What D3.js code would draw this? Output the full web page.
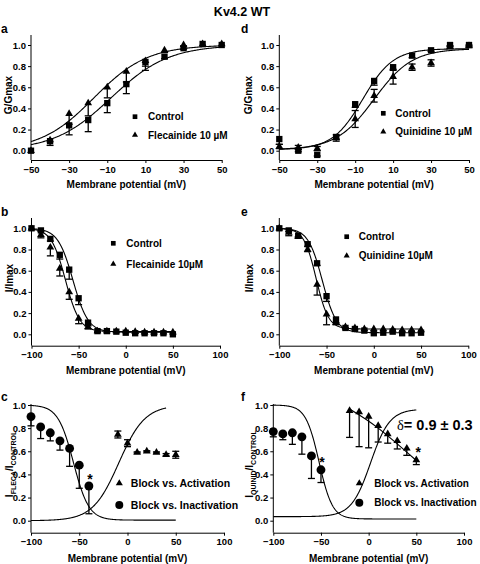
<!DOCTYPE html>
<html><head><meta charset="utf-8">
<script src="https://cdn.jsdelivr.net/npm/d3@7"></script>
<style>body{margin:0;background:#fff}svg{display:block;font-family:"Liberation Sans",Arial,sans-serif}</style>
</head><body><svg id="c" width="480" height="564"></svg>
<script>
// ---------- DATA ----------
const voltsA = [-50,-40,-30,-20,-10,0,10,20,30,40,50];
const ctrlA = [0.0,0.09,0.24,0.29,0.45,0.63,0.84,0.89,0.97,1.01,1.0];
const ctrlAErr = [0,0.04,0.09,0.11,0.09,0.09,0.08,0.02,0.01,0,0];
const fleA = [0.0,0.10,0.35,0.45,0.60,0.75,0.85,0.95,1.0,1.01,1.01];
const fleAErr = [0,0,0.10,0.12,0.10,0.10,0.05,0.02,0.01,0,0];
const fitA = {ctrl:{vh:-8,k:15,bottom:0,top:1.0,dir:-1}, drug:{vh:-17,k:14,bottom:0,top:1.0,dir:-1}};

const voltsD = [-50,-40,-30,-20,-10,0,10,20,30,40,50];
const ctrlD = [0.11,0.0,-0.04,0.13,0.44,0.66,0.79,0.90,0.95,1.0,1.0];
const ctrlDErr = [0.05,0.01,0.01,0.02,0.03,0.04,0.03,0.02,0.01,0.01,0.01];
const quiD = [0.04,0.03,0.02,0.12,0.30,0.52,0.70,0.79,0.83,0.98,0.99];
const quiDErr = [0.02,0.02,0.02,0.03,0.08,0.06,0.07,0.03,0.03,0.01,0.01];
const fitD = {ctrl:{vh:-6,k:8,bottom:0.01,top:0.965,dir:-1}, drug:{vh:0,k:10,bottom:0.01,top:0.965,dir:-1}};

const voltsB = [-100,-90,-80,-70,-60,-50,-40,-30,-20,-10,0,10,20,30,40,50];
const ctrlB = [1.0,0.98,0.90,0.75,0.61,0.34,0.11,0.03,0.03,0.025,0.015,0.01,0.01,0.01,0.01,0.0];
const ctrlBErr = [0,0.01,0.02,0.04,0.09,0.06,0.03,0.01,0,0,0,0,0,0,0,0];
const fleB = [1.0,0.94,0.82,0.62,0.40,0.15,0.07,0.03,0.03,0.03,0.03,0.025,0.02,0.02,0.02,0.02];
const fleBErr = [0,0.03,0.08,0.07,0.07,0.05,0.02,0.01,0,0,0,0,0,0,0,0];
const fitB = {ctrl:{vh:-56,k:8,bottom:0.02,top:1.0,dir:1,from:-100,to:50}, drug:{vh:-64,k:7.5,bottom:0.025,top:1.0,dir:1,from:-100,to:50}};

const voltsE = [-100,-90,-80,-70,-60,-50,-40,-30,-20,-10,0,10,20,30,40,50];
const ctrlE = [1.0,0.98,0.93,0.85,0.67,0.36,0.14,0.06,0.05,0.035,0.01,0.015,0.025,0.01,0.01,0.015];
const ctrlEErr = [0,0.01,0.01,0.02,0.02,0.05,0.03,0.01,0,0,0,0,0,0,0,0];
const quiE = [1.0,0.96,0.92,0.80,0.47,0.19,0.11,0.07,0.06,0.05,0.05,0.05,0.045,0.04,0.04,0.04];
const quiEErr = [0,0.03,0.01,0.02,0.10,0.10,0.02,0.01,0,0,0,0,0,0,0,0];
const fitE = {ctrl:{vh:-54.5,k:7.5,bottom:0.015,top:1.0,dir:1,from:-100,to:50}, drug:{vh:-61,k:6.5,bottom:0.05,top:1.0,dir:1,from:-100,to:50}};

const voltsCInact = [-100,-90,-80,-70,-60,-50,-40];
const inactC = [0.90,0.81,0.76,0.69,0.625,0.48,0.30];
const inactCErr = [0.08,0.10,0.07,0.08,0.155,0.20,0.24];
const voltsCAct = [-10,0,10,20,30,40,50];
const actC = [0.745,0.67,0.59,0.60,0.59,0.57,0.57];
const actCErr = [0.03,0.03,0.005,0.005,0.005,0.01,0.03];
const starC = [{v:-39,y:0.38}];
const fitC = {act:{vh:-9,k:13.5,bottom:0,top:1.0,dir:-1,from:-100,to:40}, inact:{vh:-56,k:8,bottom:0.005,top:1.0,dir:1,from:-100,to:50}};

const voltsFInact = [-100,-90,-80,-70,-60,-50];
const inactF = [0.77,0.75,0.76,0.725,0.56,0.44];
const inactFErr = [0.045,0.05,0.10,0.15,0.195,0.11];
const voltsFAct = [-20,-10,0,10,20,30,40,50];
const actF = [0.95,0.94,0.90,0.82,0.75,0.69,0.625,0.525];
const actFErr = [0.23,0.30,0.27,0.14,0.08,0.07,0.06,0.04];
const starF = [{v:-49,y:0.525},{v:52,y:0.61}];
const fitF = {act:{vh:2,k:10,bottom:0.035,top:0.965,dir:-1,from:-100,to:50}, inact:{vh:-52,k:7,bottom:0.015,top:1.0,dir:1,from:-100,to:50}};
const deltaLineV = [-20,10,50];
const deltaLineY = [0.965,0.80,0.52];

const yTicks = [0,0.2,0.4,0.6,0.8,1.0];
const xTicksNarrow = [-50,-30,-10,10,30,50];
const xTicksWide = [-100,-50,0,50,100];

// ---------- DRAW ----------
const svg = d3.select("#c");
svg.append("text").attr("x",242).attr("y",16).attr("text-anchor","middle")
  .attr("font-size",12.5).attr("font-weight","bold").text("Kv4.2 WT");

function boltz(p,v){return p.bottom+(p.top-p.bottom)/(1+Math.exp(p.dir*(v-p.vh)/p.k));}

function sym(type,size){
  const t = type==="square"?d3.symbolSquare:type==="triangle"?d3.symbolTriangle:d3.symbolCircle;
  return d3.symbol().type(t).size(size)();
}

function panel(cfg){
  const g = svg.append("g");
  const x = d3.scaleLinear().domain(cfg.xdom).range([cfg.x0,cfg.x1]);
  const y = d3.scaleLinear().domain([0,1]).range([cfg.y0,cfg.y1]);
  const ya = g.append("g").attr("transform",`translate(${cfg.x0},0)`)
    .call(d3.axisLeft(y).tickValues(yTicks).tickFormat(d3.format(".1f")).tickSize(3).tickPadding(2).tickSizeOuter(0));
  ya.select(".domain").attr("d",`M0,${cfg.axisTop}V${cfg.axisY}`);
  g.append("g").attr("transform",`translate(0,${cfg.axisY})`)
    .call(d3.axisBottom(x).tickValues(cfg.xticks).tickFormat(d3.format("d")).tickSize(3).tickPadding(3).tickSizeOuter(0));
  g.selectAll(".tick text").attr("font-size",9.5).attr("font-weight","bold").attr("font-family","Liberation Sans, Arial, sans-serif").attr("fill","#000");
  g.selectAll(".domain,.tick line").attr("stroke","#000").attr("stroke-width",1);
  g.append("text").attr("x",cfg.labelX).attr("y",cfg.labelY).attr("font-size",12).attr("font-weight","bold").text(cfg.letter);
  g.append("text").attr("x",(cfg.x0+cfg.x1)/2).attr("y",cfg.titleY).attr("text-anchor","middle")
    .attr("font-size",10).attr("font-weight","bold").text("Membrane potential (mV)");
  const yl = g.append("text").attr("transform",`translate(${cfg.ytX},${cfg.ytY}) rotate(-90)`)
    .attr("text-anchor","middle").attr("font-size",10).attr("font-weight","bold");
  if(cfg.ySub){
    yl.append("tspan").text("I");
    yl.append("tspan").attr("font-size",7).attr("dy",2.5).text(cfg.ySub[0]);
    yl.append("tspan").attr("dy",-2.5).text("/I");
    yl.append("tspan").attr("font-size",7).attr("dy",2.5).text(cfg.ySub[1]);
  } else yl.text(cfg.yTitle);
  const line = d3.line().x(d=>x(d[0])).y(d=>y(d[1]));
  cfg.fits.forEach(p=>{
    const from = p.from!==undefined?p.from:cfg.xdom[0], to = p.to!==undefined?p.to:cfg.xdom[1];
    const pts = d3.range(from,to+0.01,0.5).map(v=>[v,boltz(p,v)]);
    g.append("path").attr("d",line(pts)).attr("fill","none").attr("stroke","#000").attr("stroke-width",1.1);
  });
  if(cfg.extraLine){
    const l2 = d3.line().x(d=>x(d[0])).y(d=>y(d[1])).curve(d3.curveNatural);
    g.append("path").attr("d",l2(cfg.extraLine[0].map((v,i)=>[v,cfg.extraLine[1][i]])))
      .attr("fill","none").attr("stroke","#000").attr("stroke-width",1.2);
  }
  cfg.series.forEach(s=>{
    s.v.forEach((v,i)=>{
      const e = s.err[i]; if(!e) return;
      const cx = x(v), yc = y(s.y[i]);
      const lo = y(s.y[i]-e), hi = s.both?y(s.y[i]+e):yc;
      g.append("line").attr("x1",cx).attr("x2",cx).attr("y1",hi).attr("y2",lo).attr("stroke","#000").attr("stroke-width",1.3);
      g.append("line").attr("x1",cx-3.5).attr("x2",cx+3.5).attr("y1",lo).attr("y2",lo).attr("stroke","#000").attr("stroke-width",1.3);
      if(s.both) g.append("line").attr("x1",cx-3.5).attr("x2",cx+3.5).attr("y1",hi).attr("y2",hi).attr("stroke","#000").attr("stroke-width",1.3);
    });
  });
  cfg.series.forEach(s=>{
    s.v.forEach((v,i)=>{
      g.append("path").attr("d",sym(s.type,s.size)).attr("transform",`translate(${x(v)},${y(s.y[i])})`).attr("fill","#000");
    });
  });
  (cfg.stars||[]).forEach(st=>{
    g.append("text").attr("x",x(st.v)).attr("y",y(st.y)+7).attr("text-anchor","middle")
      .attr("font-size",14).attr("font-weight","bold").text("*");
  });
  cfg.legend.forEach(l=>{
    g.append("path").attr("d",sym(l.type,l.size)).attr("transform",`translate(${l.x},${l.y})`).attr("fill","#000");
    g.append("text").attr("x",l.x+l.dx).attr("y",l.y+3.7).attr("font-size",l.fs).attr("font-weight","bold").text(l.text);
  });
  return {g,x,y};
}

const SQ=40, TR=26, CI=62, LSQ=22, LTR=16, LCI=42;
panel({xdom:[-50,50],x0:31,x1:221.7,y0:150.7,y1:45,axisY:160,axisTop:35,xticks:xTicksNarrow,
  letter:"a",labelX:1,labelY:33,titleY:188,ytX:12,ytY:95,yTitle:"G/Gmax",
  fits:[fitA.ctrl,fitA.drug],
  series:[{v:voltsA,y:fleA,err:fleAErr,type:"triangle",size:TR},{v:voltsA,y:ctrlA,err:ctrlAErr,type:"square",size:SQ}],
  legend:[{x:135,y:116.7,type:"square",size:LSQ,dx:13,fs:10,text:"Control"},{x:135,y:135,type:"triangle",size:LTR,dx:13,fs:10,text:"Flecainide 10 \u00b5M"}]});
panel({xdom:[-50,50],x0:279.3,x1:469,y0:150.7,y1:45,axisY:160,axisTop:35,xticks:xTicksNarrow,
  letter:"d",labelX:241,labelY:33,titleY:188,ytX:252,ytY:95,yTitle:"G/Gmax",
  fits:[fitD.ctrl,fitD.drug],
  series:[{v:voltsD,y:ctrlD,err:ctrlDErr,type:"square",size:SQ},{v:voltsD,y:quiD,err:quiDErr,type:"triangle",size:TR,both:true}],
  legend:[{x:383.3,y:113.3,type:"square",size:LSQ,dx:12,fs:10,text:"Control"},{x:383.3,y:131.7,type:"triangle",size:LTR,dx:12,fs:10,text:"Quinidine 10 \u00b5M"}]});
panel({xdom:[-100,100],x0:31.5,x1:220,y0:334.3,y1:228.3,axisY:345.7,axisTop:218,xticks:xTicksWide,
  letter:"b",labelX:1,labelY:216,titleY:374,ytX:13,ytY:278,yTitle:"I/Imax",
  fits:[fitB.ctrl,fitB.drug],
  series:[{v:voltsB,y:fleB,err:fleBErr,type:"triangle",size:TR},{v:voltsB,y:ctrlB,err:ctrlBErr,type:"square",size:SQ}],
  legend:[{x:113.3,y:243.3,type:"square",size:LSQ,dx:13,fs:10,text:"Control"},{x:113.3,y:264,type:"triangle",size:LTR,dx:13,fs:10,text:"Flecainide 10\u00b5M"}]});
panel({xdom:[-100,100],x0:279.3,x1:468.3,y0:334.3,y1:228.3,axisY:345.7,axisTop:218,xticks:xTicksWide,
  letter:"e",labelX:241,labelY:216,titleY:374,ytX:253,ytY:278,yTitle:"I/Imax",
  fits:[fitE.ctrl,fitE.drug],
  series:[{v:voltsE,y:quiE,err:quiEErr,type:"triangle",size:TR},{v:voltsE,y:ctrlE,err:ctrlEErr,type:"square",size:SQ}],
  legend:[{x:346.7,y:236.7,type:"square",size:LSQ,dx:12,fs:10,text:"Control"},{x:346.7,y:255.7,type:"triangle",size:LTR,dx:12,fs:10,text:"Quinidine 10\u00b5M"}]});
panel({xdom:[-100,100],x0:31,x1:224,y0:520.7,y1:405,axisY:532.7,axisTop:404,xticks:xTicksWide,
  letter:"c",labelX:1,labelY:401,titleY:562,ytX:13,ytY:464,ySub:["FLECA","CONTROL"],
  fits:[fitC.act,fitC.inact],stars:starC,
  series:[{v:voltsCInact,y:inactC,err:inactCErr,type:"circle",size:CI},{v:voltsCAct,y:actC,err:actCErr,type:"triangle",size:TR,both:true}],
  legend:[{x:119.3,y:483.3,type:"triangle",size:LTR+6,dx:11.5,fs:10.5,text:"Block vs. Activation"},{x:119.3,y:505,type:"circle",size:LCI+8,dx:11.5,fs:10.5,text:"Block vs. Inactivation"}]});
const pf = panel({xdom:[-100,100],x0:273.3,x1:464,y0:520.7,y1:405,axisY:532.7,axisTop:404,xticks:xTicksWide,
  letter:"f",labelX:241,labelY:401,titleY:562,ytX:253,ytY:464,ySub:["QUINID","CONTROL"],
  fits:[fitF.act,fitF.inact],stars:starF,extraLine:[deltaLineV,deltaLineY],
  series:[{v:voltsFInact,y:inactF,err:inactFErr,type:"circle",size:CI},{v:voltsFAct,y:actF,err:actFErr,type:"triangle",size:TR}],
  legend:[{x:359.3,y:483.3,type:"triangle",size:LTR+6,dx:15,fs:10,text:"Block vs. Activation"},{x:359.3,y:502.7,type:"circle",size:LCI+8,dx:15,fs:10,text:"Block vs. Inactivation"}]});
const dt = pf.g.append("text").attr("x",397).attr("y",430).attr("font-size",14.5);
dt.append("tspan").attr("font-family","Liberation Serif, serif").text("\u03b4");
dt.append("tspan").attr("font-weight","bold").text("= 0.9 \u00b1 0.3");
</script></body></html>
